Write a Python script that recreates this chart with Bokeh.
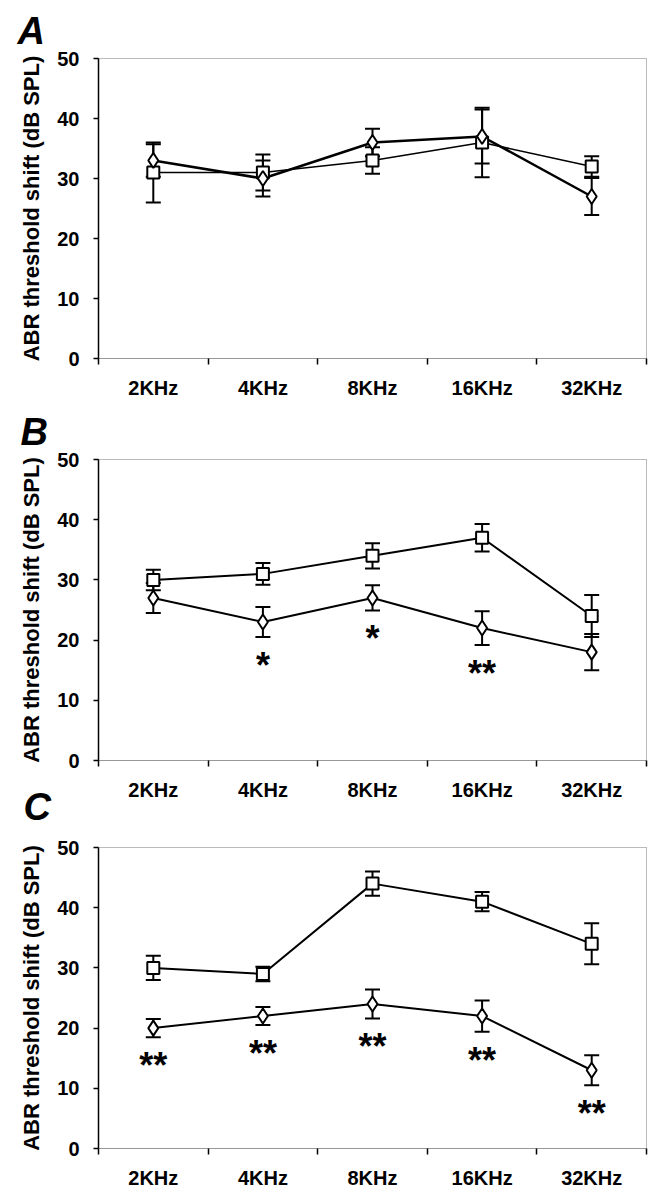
from bokeh.plotting import figure
from bokeh.layouts import column
from bokeh.models import Range1d, FixedTicker, Title
from bokeh.embed import file_html
from bokeh.resources import INLINE
from bokeh.core.properties import value

freqs = ["2KHz", "4KHz", "8KHz", "16KHz", "32KHz"]

a_sq = [31, 31, 33, 36, 32]
a_sq_err = [5.0, 3.0, 2.2, 5.8, 1.7]
a_di = [33, 30, 36, 37, 27]
a_di_err = [2.7, 3.0, 2.3, 4.5, 3.1]
a_sig = ["", "", "", "", ""]

b_sq = [30, 31, 34, 37, 24]
b_sq_err = [1.7, 1.8, 2.1, 2.3, 3.5]
b_di = [27, 23, 27, 22, 18]
b_di_err = [2.5, 2.5, 2.1, 2.8, 3.0]
b_sig = ["", "*", "*", "**", ""]

c_sq = [30, 29, 44, 41, 34]
c_sq_err = [2.0, 1.2, 2.0, 1.6, 3.4]
c_di = [20, 22, 24, 22, 13]
c_di_err = [1.5, 1.5, 2.4, 2.6, 2.5]
c_sig = ["**", "**", "**", "**", "**"]

y_ticks = [0, 10, 20, 30, 40, 50]
FONT = "Liberation Sans"
LETTER_SIZE = "38px"


def make_panel(letter, sq, sq_err, di, di_err, sig, height, btop, bbot,
               letter_offset, letter_standoff, sq_lw, di_lw):
    n = len(freqs)
    xs = [i + 0.5 for i in range(n)]
    p = figure(width=650, height=height, output_backend="svg",
               toolbar_location=None, x_range=Range1d(0, n),
               y_range=Range1d(0, 50), min_border_left=98,
               min_border_right=4, min_border_top=btop,
               min_border_bottom=bbot)
    p.background_fill_color = "white"
    p.border_fill_color = "white"
    p.outline_line_color = "#777777"
    p.outline_line_dash = "1 1"
    p.outline_line_width = 1
    p.xgrid.visible = False
    p.ygrid.visible = False

    if letter:
        p.title.text = letter
        p.title.align = "left"
        p.title.offset = letter_offset
        p.title.standoff = letter_standoff
        p.title.text_font = FONT
        p.title.text_font_style = "bold italic"
        p.title.text_font_size = LETTER_SIZE
        p.title.text_color = "black"

    # x axis
    xa = p.xaxis[0]
    xa.ticker = FixedTicker(ticks=xs, minor_ticks=list(range(n + 1)))
    xa.major_label_overrides = {x: f for x, f in zip(xs, freqs)}
    xa.major_tick_out = 0
    xa.major_tick_in = 0
    xa.minor_tick_out = 6
    xa.minor_tick_in = 0
    xa.minor_tick_line_color = "black"
    xa.minor_tick_line_width = 1.5
    xa.axis_line_color = "#777777"
    xa.axis_line_dash = "1 1"
    xa.major_label_standoff = 12
    xa.major_label_text_font = FONT
    xa.major_label_text_font_style = "bold"
    xa.major_label_text_font_size = "20px"
    xa.major_label_text_color = "black"

    # y axis
    ya = p.yaxis[0]
    ya.ticker = FixedTicker(ticks=y_ticks, minor_ticks=[])
    ya.axis_line_color = "black"
    ya.axis_line_width = 1.5
    ya.major_tick_out = 5
    ya.major_tick_in = 0
    ya.major_tick_line_width = 1.5
    ya.minor_tick_line_color = None
    ya.major_label_standoff = 14
    ya.major_label_text_font = FONT
    ya.major_label_text_font_style = "bold"
    ya.major_label_text_font_size = "20px"
    ya.major_label_text_color = "black"
    ya.axis_label = "ABR threshold shift (dB SPL)"
    ya.axis_label_text_font = FONT
    ya.axis_label_text_font_style = "bold"
    ya.axis_label_text_font_size = "22px"
    ya.axis_label_text_color = "black"
    ya.axis_label_standoff = 10

    # series lines
    p.line(xs, sq, line_color="black", line_width=sq_lw)
    p.line(xs, di, line_color="black", line_width=di_lw)

    # error bars
    for vals, errs in ((sq, sq_err), (di, di_err)):
        lo = [v - e for v, e in zip(vals, errs)]
        hi = [v + e for v, e in zip(vals, errs)]
        p.segment(xs, lo, xs, hi, line_color="black", line_width=2)
        p.scatter(xs, lo, marker="dash", size=15, line_color="black", line_width=2)
        p.scatter(xs, hi, marker="dash", size=15, line_color="black", line_width=2)

    # markers
    p.scatter(xs, sq, marker="square", size=12, fill_color="white",
              line_color="black", line_width=2)
    p.scatter(xs, di, marker="diamond", size=15, fill_color="white",
              line_color="black", line_width=2)

    # significance stars
    sx, sy, st = [], [], []
    for x, v, e, s in zip(xs, di, di_err, sig):
        if s:
            sx.append(x)
            sy.append(v - e - 1.3)
            st.append(s)
    if st:
        p.text(sx, sy, text=st, text_font=value(FONT), text_font_style="bold",
               text_font_size="36px", text_align="center", text_baseline="top",
               text_color="black")
    return p


pa = make_panel("A", a_sq, a_sq_err, a_di, a_di_err, a_sig, 401, 58, 42, -81, 13, 1.5, 2.5)
pb = make_panel("B", b_sq, b_sq_err, b_di, b_di_err, b_sig, 426, 58, 67, -78, 13, 2, 2)
pc = make_panel("", c_sq, c_sq_err, c_di, c_di_err, c_sig, 366, 20, 45, 0, 0, 2, 2)
pb.add_layout(Title(text="C", align="left", offset=-75, standoff=-40,
                    text_font=FONT, text_font_style="bold italic",
                    text_font_size=LETTER_SIZE, text_color="black"), "below")

layout = column(pa, pb, pc, spacing=0)
open("out.html", "w").write(file_html(layout, INLINE))
